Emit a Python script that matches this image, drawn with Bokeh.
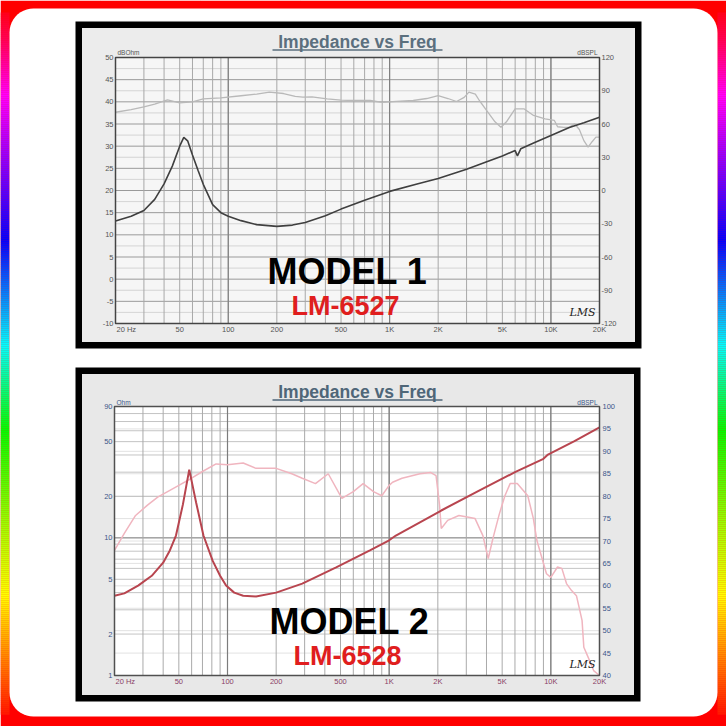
import numpy as np
from bokeh.plotting import figure
from bokeh.models import Range1d, LogScale, LinearScale
from bokeh.core.properties import value
from bokeh.embed import file_html
from bokeh.resources import INLINE

# ---------------- data ----------------
grid_freqs = [20, 30, 40, 50, 60, 70, 80, 90, 100, 200, 300, 400, 500, 600, 700, 800, 900,
              1000, 2000, 3000, 4000, 5000, 6000, 7000, 8000, 9000, 10000, 20000]
decade_freqs = [100, 1000, 10000]
x_tick_freqs = [50, 100, 200, 500, 1000, 2000, 5000, 10000, 20000]
x_tick_labels = ["50", "100", "200", "500", "1K", "2K", "5K", "10K", "20K"]
x_first_freq = [20]
x_first_label = ["20  Hz"]

chart_title = "Impedance vs Freq"

# Model 1
m1_name = "MODEL 1"
m1_part = "LM-6527"
m1_left_ticks = [50, 45, 40, 35, 30, 25, 20, 15, 10, 5, 0, -5, -10]
m1_left_minor = [47.5, 42.5, 37.5, 32.5, 27.5, 22.5, 17.5, 12.5, 7.5, 2.5, -2.5, -7.5]
m1_right_ticks = [120, 90, 60, 30, 0, -30, -60, -90, -120]
m1_left_unit = "dBOhm"
m1_right_unit = "dBSPL"
m1_imp_freq = [20, 25, 30, 35, 40, 45, 50, 53, 56, 60, 65, 70, 80, 90, 100, 120, 150, 200, 250,
               300, 400, 500, 700, 1000, 1500, 2000, 3000, 4000, 5000, 6000, 6200, 6500, 8000,
               10000, 13000, 16000, 20000]
m1_imp_db = [13.1, 14.2, 15.5, 18.0, 21.5, 25.5, 30.0, 32.0, 31.2, 28.0, 24.5, 21.4, 16.8, 15.0,
             14.2, 13.2, 12.3, 11.9, 12.2, 12.8, 14.3, 15.8, 17.8, 19.8, 21.5, 22.7, 24.8, 26.5,
             27.8, 29.0, 27.8, 29.4, 30.9, 32.4, 34.2, 35.3, 36.5]
m1_spl_freq = [20, 25, 30, 35, 42, 50, 60, 70, 90, 120, 150, 180, 220, 260, 290, 330, 410, 500,
               600, 760, 900, 1100, 1400, 1700, 2000, 2300, 2600, 2900, 3100, 3400, 3600, 4000,
               4500, 4900, 5300, 6000, 6800, 7800, 9200, 10500, 11000, 12000, 13000, 14000,
               15000, 16000, 17000, 18000, 19000, 20000]
m1_spl_db = [70.6, 73.0, 75.5, 78.0, 81.8, 79.0, 80.0, 82.7, 83.5, 85.5, 87.0, 88.7, 87.5, 85.0,
             84.2, 84.5, 82.7, 81.5, 81.2, 81.2, 79.5, 80.5, 81.2, 83.0, 85.7, 83.0, 80.3, 84.0,
             88.7, 87.0, 81.2, 72.0, 62.0, 57.1, 62.0, 73.7, 73.7, 67.7, 64.7, 63.2, 57.5, 57.0,
             57.0, 60.2, 55.0, 45.0, 39.1, 44.0, 48.1, 48.1]

# Model 2
m2_name = "MODEL 2"
m2_part = "LM-6528"
m2_left_ticks = [90, 50, 20, 10, 5, 2, 1]
m2_left_grid = [1, 2, 3, 4, 5, 6, 7, 8, 9, 10, 20, 30, 40, 50, 60, 70, 80, 90]
m2_right_ticks = [100, 95, 90, 85, 80, 75, 70, 65, 60, 55, 50, 45, 40]
m2_left_unit = "Ohm"
m2_right_unit = "dBSPL"
m2_imp_freq = [20, 23, 28, 34, 40, 44, 48, 53, 58, 64, 71, 81, 90, 98, 110, 125, 150, 200, 290,
               470, 760, 1000, 1100, 2100, 3600, 6000, 9000, 9600, 14000, 20000]
m2_imp_ohm = [3.8, 3.95, 4.5, 5.3, 6.6, 8.1, 10.4, 17.5, 31.3, 18.0, 10.4, 6.8, 5.3, 4.5, 4.0,
              3.8, 3.75, 4.0, 4.65, 6.1, 8.1, 9.6, 10.4, 15.8, 22.0, 30.0, 37.5, 40.3, 50.5, 63.6]
m2_spl_freq = [20, 23, 27, 32, 37, 44, 50, 60, 70, 85, 100, 125, 150, 200, 250, 290, 350, 420,
               510, 600, 690, 800, 900, 1000, 1050, 1200, 1550, 1800, 1950, 2050, 2100, 2300,
               2700, 3100, 3400, 3800, 4100, 4400, 4800, 5200, 5600, 6200, 7200, 7800, 8200,
               9400, 10000, 11000, 11700, 12500, 13400, 14400, 15600, 16000, 17000, 18400, 20000]
m2_spl_db = [67.9, 71.7, 75.7, 78.0, 79.8, 81.3, 82.4, 84.0, 85.5, 87.2, 87.0, 87.4, 86.2, 86.2,
             85.0, 84.0, 82.8, 85.0, 79.5, 81.0, 82.8, 81.0, 80.1, 82.4, 83.1, 84.0, 85.0, 85.3,
             84.6, 78.0, 72.8, 74.6, 75.7, 75.3, 75.0, 71.2, 66.1, 70.8, 76.0, 80.1, 82.8, 82.8,
             80.1, 75.0, 70.1, 62.7, 61.9, 64.2, 63.9, 60.5, 59.0, 57.8, 52.3, 46.3, 44.1, 41.1, 40.0]

# ---------------- layout helpers ----------------
W = H = 726
FONT = value("Liberation Sans")


def ext_range(v_lo, v_hi, p_lo, p_hi, total, log=False):
    """Range whose v_lo sits p_lo px and v_hi sits p_hi px from the range start side."""
    f = np.log10 if log else (lambda v: v)
    a, b = f(v_lo), f(v_hi)
    k = (b - a) / (p_hi - p_lo)
    s, e = a - p_lo * k, b + (total - p_hi) * k
    if log:
        s, e = 10 ** s, 10 ** e
    return Range1d(float(s), float(e))


# chart plot areas in page pixels (x from left, y from top)
A1 = dict(l=115, r=599, t=57, b=323)
A2 = dict(l=114, r=599, t=406, b=675)

p = figure(width=W, height=H, x_range=Range1d(0, W), y_range=Range1d(H, 0),
           output_backend="svg", toolbar_location=None,
           x_axis_location=None, y_axis_location=None, min_border=0)
p.outline_line_color = None
p.background_fill_color = "white"
p.border_fill_color = "white"
p.styles = {"position": "absolute", "left": "0px", "top": "0px"}

p.extra_x_ranges = {
    "f1": ext_range(20, 20000, A1["l"], A1["r"], W, log=True),
    "f2": ext_range(20, 20000, A2["l"], A2["r"], W, log=True),
}
p.extra_x_scales = {"f1": LogScale(), "f2": LogScale()}
p.extra_y_ranges = {
    "z1": ext_range(-10, 50, H - A1["b"], H - A1["t"], H),
    "s1": ext_range(-120, 120, H - A1["b"], H - A1["t"], H),
    "z2": ext_range(1, 90, H - A2["b"], H - A2["t"], H, log=True),
    "s2": ext_range(40, 100, H - A2["b"], H - A2["t"], H),
}
p.extra_y_scales = {"z1": LinearScale(), "s1": LinearScale(), "z2": LogScale(), "s2": LinearScale()}

# ---------------- rainbow frame ----------------
p.quad(left=[0], right=[W], top=[0], bottom=[H], fill_color="#ff0000", line_color=None)
stop_y = [0, 40, 95, 160, 240, 345, 430, 520, 595, 665, 726]
stop_rgb = np.array([(255, 0, 0), (255, 0, 90), (255, 0, 255), (140, 0, 255), (0, 0, 255),
                     (0, 255, 255), (0, 255, 0), (150, 255, 0), (255, 255, 0), (255, 120, 0),
                     (255, 0, 0)], dtype=float)
ys = np.arange(12, 714, 2)
cols = []
for y in ys:
    c = [int(np.interp(y + 1, stop_y, stop_rgb[:, i])) for i in range(3)]
    cols.append("#%02x%02x%02x" % tuple(c))
for lx, rx in [(0, 9), (717, W)]:
    p.quad(left=lx, right=rx, top=ys, bottom=ys + 2.2, fill_color=cols, line_color=None)


def rounded(x0, y0, x1, y1, r, n=12):
    xs, yv = [], []
    for cx, cy, a0 in [(x1 - r, y0 + r, -90), (x1 - r, y1 - r, 0), (x0 + r, y1 - r, 90), (x0 + r, y0 + r, 180)]:
        for a in np.linspace(a0, a0 + 90, n):
            xs.append(cx + r * np.cos(np.radians(a)))
            yv.append(cy + r * np.sin(np.radians(a)))
    return xs, yv


rx, ry = rounded(9, 8, 717, 716, 24)
p.patch(rx, ry, fill_color="white", line_color=None)

# ---------------- panels ----------------
for (l, r, t, b, bg) in [(75, 641, 21, 348, "#ececec"), (75, 640, 367, 701, "#e8e8e8")]:
    p.quad(left=[l], right=[r], top=[t], bottom=[b], fill_color="black", line_color=None)
    p.quad(left=[l + 6.5], right=[r - 6.5], top=[t + 6.5], bottom=[b - 6.5], fill_color=bg, line_color=None)

# titles with underline
for ty, col in [(41, "#5b6f7e"), (391, "#4f6678")]:
    p.text(x=[357], y=[ty], text=[chart_title], text_font=FONT, text_font_style="bold",
           text_font_size="17.5px", text_align="center", text_baseline="middle", text_color=col)
    p.segment(x0=[272], y0=[ty + 8.5], x1=[442], y1=[ty + 8.5], line_color=col, line_width=1.6)

# ---------------- chart 1 ----------------
p.quad(left=[20], right=[20000], bottom=[-10], top=[50], x_range_name="f1", y_range_name="z1",
       fill_color="#f6f6f6", line_color=None)
p.segment(x0=20, y0=m1_left_minor, x1=20000, y1=m1_left_minor, x_range_name="f1", y_range_name="z1",
          line_color="#cdcdcd", line_width=0.8)
p.segment(x0=20, y0=m1_left_ticks, x1=20000, y1=m1_left_ticks, x_range_name="f1", y_range_name="z1",
          line_color="#9a9a9a", line_width=1)
p.segment(x0=grid_freqs, y0=-10, x1=grid_freqs, y1=50, x_range_name="f1", y_range_name="z1",
          line_color="#a8a8a8", line_width=1)
p.segment(x0=decade_freqs, y0=-10, x1=decade_freqs, y1=50, x_range_name="f1", y_range_name="z1",
          line_color="#808080", line_width=1.2)
p.line(m1_spl_freq, m1_spl_db, x_range_name="f1", y_range_name="s1", line_color="#b9b9b9", line_width=1.3)
p.line(m1_imp_freq, m1_imp_db, x_range_name="f1", y_range_name="z1", line_color="#3f3f3f", line_width=1.6)
p.quad(left=[20], right=[20000], bottom=[-10], top=[50], x_range_name="f1", y_range_name="z1",
       fill_color=None, line_color="#444444", line_width=1.5)

lab1 = dict(text_font=FONT, text_font_size="7.5px", text_color="#555555", text_baseline="middle")
p.text(x=113, y=m1_left_ticks, text=[str(v) for v in m1_left_ticks], y_range_name="z1",
       text_align="right", **lab1)
p.text(x=601, y=m1_right_ticks, text=[str(v) for v in m1_right_ticks], y_range_name="s1",
       text_align="left", **lab1)
p.text(x=x_tick_freqs, y=329, text=x_tick_labels, x_range_name="f1", text_align="center", **lab1)
p.text(x=x_first_freq, y=329, text=x_first_label, x_range_name="f1", text_align="left", x_offset=1, **lab1)
p.text(x=[117], y=[52], text=[m1_left_unit], text_align="left", **dict(lab1, text_font_size="6.5px"))
p.text(x=[597], y=[52], text=[m1_right_unit], text_align="right", **dict(lab1, text_font_size="6.5px"))

# ---------------- chart 2 ----------------
p.quad(left=[20], right=[20000], bottom=[1], top=[90], x_range_name="f2", y_range_name="z2",
       fill_color="#ffffff", line_color=None)
p.segment(x0=20, y0=m2_right_ticks, x1=20000, y1=m2_right_ticks, x_range_name="f2", y_range_name="s2",
          line_color="#dadada", line_width=0.8)
p.segment(x0=20, y0=m2_left_grid, x1=20000, y1=m2_left_grid, x_range_name="f2", y_range_name="z2",
          line_color="#bdbdbd", line_width=0.9)
p.segment(x0=20, y0=[10], x1=20000, y1=[10], x_range_name="f2", y_range_name="z2",
          line_color="#8c8c8c", line_width=1)
p.segment(x0=grid_freqs, y0=1, x1=grid_freqs, y1=90, x_range_name="f2", y_range_name="z2",
          line_color="#aaaaaa", line_width=1)
p.segment(x0=decade_freqs, y0=1, x1=decade_freqs, y1=90, x_range_name="f2", y_range_name="z2",
          line_color="#7c7c7c", line_width=1.2)
p.line(m2_spl_freq, m2_spl_db, x_range_name="f2", y_range_name="s2", line_color="#f0b5bf", line_width=1.5)
p.line(m2_imp_freq, m2_imp_ohm, x_range_name="f2", y_range_name="z2", line_color="#b8454f", line_width=2)
p.quad(left=[20], right=[20000], bottom=[1], top=[90], x_range_name="f2", y_range_name="z2",
       fill_color=None, line_color="#505050", line_width=1.5)

lab2 = dict(text_font=FONT, text_font_size="7.5px", text_color="#3b5688", text_baseline="middle")
p.text(x=112, y=m2_left_ticks, text=[str(v) for v in m2_left_ticks], y_range_name="z2",
       text_align="right", **lab2)
p.text(x=602, y=m2_right_ticks, text=[str(v) for v in m2_right_ticks], y_range_name="s2",
       text_align="left", **lab2)
p.text(x=x_tick_freqs, y=681, text=x_tick_labels, x_range_name="f2", text_align="center",
       **dict(lab2, text_color="#8a3f66"))
p.text(x=x_first_freq, y=681, text=x_first_label, x_range_name="f2", text_align="left", x_offset=1,
       **dict(lab2, text_color="#8a3f66"))
p.text(x=[116], y=[402], text=[m2_left_unit], text_align="left", **dict(lab2, text_font_size="6.5px"))
p.text(x=[597], y=[402], text=[m2_right_unit], text_align="right", **dict(lab2, text_font_size="6.5px"))

# ---------------- overlay texts ----------------
for (cx, my, name, py, part) in [(347, 270.5, m1_name, 305, m1_part), (349, 620.5, m2_name, 655, m2_part)]:
    p.text(x=[cx], y=[my], text=[name], text_font=FONT, text_font_style="bold", text_font_size="36px",
           text_align="center", text_baseline="middle", text_color="#000000")
    p.text(x=[cx - 2], y=[py], text=[part], text_font=FONT, text_font_style="bold", text_font_size="27px",
           text_align="center", text_baseline="middle", text_color="#e01e1e")

for sy in [312, 664]:
    p.text(x=[582], y=[sy], text=["LMS"], text_font=value("DejaVu Serif"), text_font_style="italic",
           text_font_size="11px", text_align="center", text_baseline="middle", text_color="#222222")

open("out.html", "w").write(file_html(p, INLINE))
